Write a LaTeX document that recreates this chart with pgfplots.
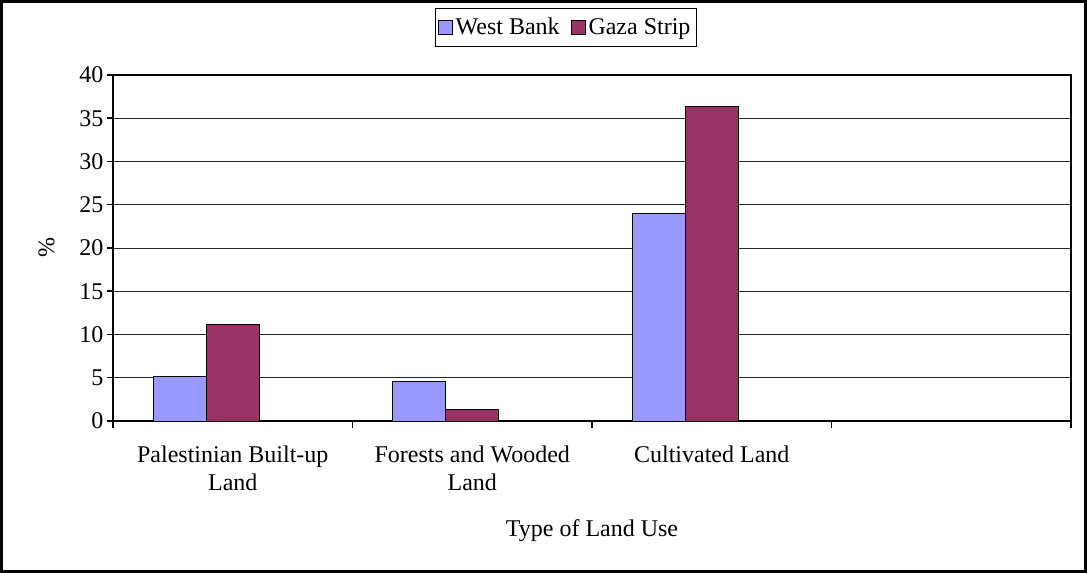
\documentclass[border=0pt]{standalone}
\usepackage{pgfplots}
\pgfplotsset{compat=1.18}
\usepackage{fontspec}
\setmainfont{Liberation Serif}
\definecolor{wb}{HTML}{9999FF}
\definecolor{gz}{HTML}{993366}
\begin{document}
\begin{tikzpicture}[font=\fontsize{24bp}{28bp}\selectfont]
\draw[line width=3bp] (1.5bp,1.5bp) rectangle (1085.5bp,571.5bp);
\begin{axis}[
  at={(113bp,152bp)}, anchor=south west,
  scale only axis, width=958bp, height=346bp,
  xmin=-0.5, xmax=3.5, ymin=0, ymax=40,
  ytick={0,5,...,40},
  xtick pos=bottom, ytick pos=left,
  xtick={0,1,2}, major x tick style={draw=none},
  xticklabels={{Palestinian Built-up\\Land},{Forests and Wooded\\Land},{Cultivated Land}},
  xticklabel style={align=center, yshift=-15bp},
  minor xtick={-0.5,0.5,1.5,2.5,3.5},
  minor x tick style={black, line width=1.5bp},
  tick align=outside, major tick length=6bp, minor tick length=7bp,
  ytick style={black, line width=1.5bp},
  ymajorgrids, grid style={black!85, line width=0.8bp},
  axis line style={black, line width=1.5bp},
  /pgf/number format/assume math mode=true,
  xlabel={Type of Land Use},
  ylabel={\%},
  xlabel style={yshift=-22bp},
  ylabel style={yshift=18bp},
  legend style={at={(0.4725,1.194)}, anchor=north, legend columns=-1, draw=black, line width=0.8bp,
    inner xsep=3bp, inner ysep=8bp, /tikz/every even column/.append style={column sep=9bp},
    legend cell align=left, nodes={inner xsep=2.5bp}},
  ybar, bar width=0.2213,
]
\addplot[fill=wb, draw=black, line width=0.8bp, bar shift=-0.2213,
  legend image code/.code={\draw[fill=wb, draw=black, line width=0.8bp] (0bp,-7bp) rectangle (14bp,7bp);}]
  coordinates {(0,5.2) (1,4.6) (2,24.0)};
\addplot[fill=gz, draw=black, line width=0.8bp, bar shift=0,
  legend image code/.code={\draw[fill=gz, draw=black, line width=0.8bp] (0bp,-7bp) rectangle (14bp,7bp);}]
  coordinates {(0,11.2) (1,1.3) (2,36.4)};
\legend{West Bank, Gaza Strip}
\end{axis}
\end{tikzpicture}
\end{document}
